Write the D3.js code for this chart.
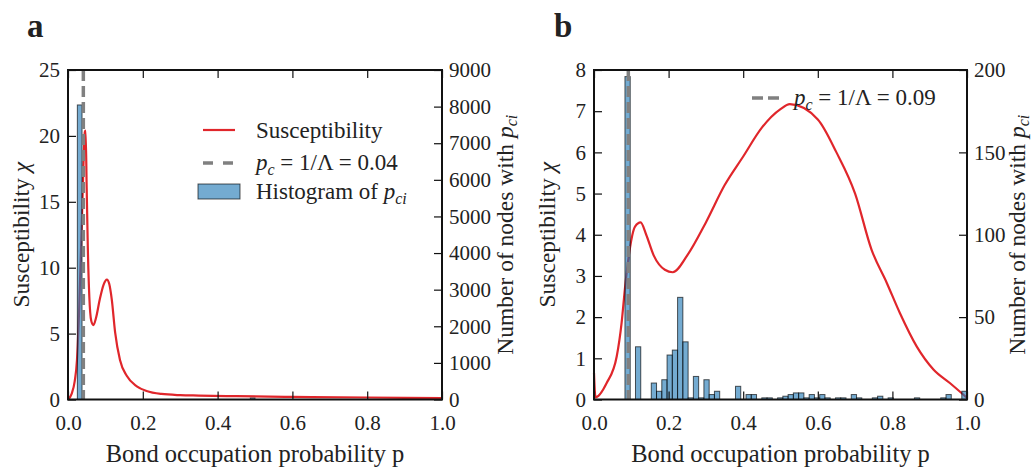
<!DOCTYPE html>
<html><head><meta charset="utf-8">
<script src="https://cdn.jsdelivr.net/npm/d3@7"></script>
<style>
body{margin:0;background:#fff}
text{font-family:"Liberation Serif","DejaVu Serif",serif;fill:#222}
</style>
</head><body>
<svg id="chart" width="1035" height="471"></svg>
<script>
// ---------- data ----------
const xTicks = [0, 0.2, 0.4, 0.6, 0.8, 1.0];
const chiTicksA = [0, 5, 10, 15, 20, 25];
const countTicksA = [0, 1000, 2000, 3000, 4000, 5000, 6000, 7000, 8000, 9000];
const chiTicksB = [0, 1, 2, 3, 4, 5, 6, 7, 8];
const countTicksB = [0, 50, 100, 150, 200];

// panel a: susceptibility curve
const suscA_p   = [0.000,0.010,0.018,0.024,0.030,0.036,0.041,0.045,0.047,0.050,0.053,0.057,0.062,0.068,0.075,0.085,0.095,0.104,0.110,0.117,0.126,0.139,0.157,0.184,0.210,0.250,0.300,0.350,0.450,0.600,0.800,1.000];
const suscA_chi = [0.0,0.45,1.4,3.0,7.0,12.5,17.5,20.3,20.4,16.0,11.5,7.8,6.0,5.65,6.2,7.6,8.7,9.1,8.8,7.6,5.1,3.0,1.8,1.0,0.65,0.42,0.33,0.30,0.25,0.20,0.15,0.10];
// panel a: histogram of p_ci
const histA_left  = [0.025, 0.4875];
const histA_count = [8045, 40];
const histA_width = 0.0125;
const pcLineA = 0.041;

// panel b: susceptibility curve
const suscB_p   = [0.000,0.004,0.034,0.061,0.074,0.083,0.095,0.110,0.125,0.140,0.160,0.190,0.211,0.250,0.300,0.350,0.400,0.450,0.500,0.525,0.600,0.650,0.700,0.744,0.785,0.820,0.865,0.910,0.954,1.000];
const suscB_chi = [0.65,0.05,0.40,1.05,1.86,2.70,3.60,4.20,4.30,4.00,3.50,3.15,3.09,3.50,4.30,5.20,5.90,6.60,7.05,7.17,6.80,6.00,5.00,3.64,2.83,2.10,1.29,0.73,0.40,0.04];
// panel b: histogram of p_ci (65 equal bins)
const histB_start = 0.083;
const histB_width = 0.01411;
const histB_count = [196,0,32,0,0,10,5,12,27,30,62,35,1,14,1,12,3,5,0,0,0,8,0,3,3,0,1,1,0,1,2,3,4,4,1,3,1,3,1,0,1,1,0,3,1,0,0,1,2,0,1,0,0,0,0,1,0,0,0,0,1,3,0,0,5];
const pcLineB = 0.092;

// ---------- drawing ----------
const svg = d3.select("#chart");
const RED = "#e0262b", BAR = "#1f77b4", GRAY = "#808080";

function panel(o) {
  const g = svg.append("g");
  const x = d3.scaleLinear().domain([0, 1]).range([o.left, o.right]);
  const yL = d3.scaleLinear().domain([0, o.chiMax]).range([o.bottom, o.top]);
  const yR = d3.scaleLinear().domain([0, o.countMax]).range([o.bottom, o.top]);

  const pts = o.sp.map((p, i) => [p, o.sc[i]]);
  g.append("path").datum(pts)
    .attr("fill", "none").attr("stroke", RED).attr("stroke-width", 2.2)
    .attr("d", d3.line().x(d => x(d[0])).y(d => yL(d[1])).curve(d3.curveMonotoneX));

  g.selectAll("rect.bar").data(o.bars).enter().append("rect")
    .attr("x", d => x(d.l)).attr("width", d => x(d.l + d.w) - x(d.l))
    .attr("y", d => yR(d.c)).attr("height", d => yR(0) - yR(d.c))
    .attr("fill", BAR).attr("fill-opacity", 0.62)
    .attr("stroke", "#000").attr("stroke-opacity", 0.65).attr("stroke-width", 1);

  g.append("line").attr("x1", x(o.pc)).attr("x2", x(o.pc))
    .attr("y1", o.top).attr("y2", o.bottom)
    .attr("stroke", GRAY).attr("stroke-width", 3.5).attr("stroke-dasharray", "11,5");

  const fmtX = d3.format(".1f");
  const ax = g.append("g").attr("transform", `translate(0,${o.bottom})`)
    .call(d3.axisBottom(x).tickValues(xTicks).tickFormat(fmtX).tickSizeInner(-8).tickSizeOuter(0).tickPadding(16));
  const axT = g.append("g").attr("transform", `translate(0,${o.top})`)
    .call(d3.axisTop(x).tickValues(xTicks).tickFormat("").tickSizeInner(-8).tickSizeOuter(0));
  const ayL = g.append("g").attr("transform", `translate(${o.left},0)`)
    .call(d3.axisLeft(yL).tickValues(o.chiTicks).tickFormat(d3.format("d")).tickSizeInner(-8).tickSizeOuter(0).tickPadding(8));
  const ayR = g.append("g").attr("transform", `translate(${o.right},0)`)
    .call(d3.axisRight(yR).tickValues(o.countTicks).tickFormat(d3.format("d")).tickSizeInner(-8).tickSizeOuter(0).tickPadding(7));
  [ax, axT, ayL, ayR].forEach(a => {
    a.select(".domain").remove();
    a.selectAll(".tick line").attr("stroke", "#111").attr("stroke-width", 1.2);
    a.selectAll(".tick text").attr("font-size", 21).attr("fill", "#222");
  });
  g.append("rect").attr("x", o.left).attr("y", o.top)
    .attr("width", o.right - o.left).attr("height", o.bottom - o.top)
    .attr("fill", "none").attr("stroke", "#111").attr("stroke-width", 2);

  g.append("text").attr("x", (o.left + o.right) / 2).attr("y", 462)
    .attr("text-anchor", "middle").attr("font-size", 24.5).text("Bond occupation probability p");
  const lt = g.append("text").attr("transform", `translate(${o.left - 39},${(o.top + o.bottom) / 2}) rotate(-90)`)
    .attr("text-anchor", "middle").attr("font-size", 23.5);
  lt.append("tspan").text("Susceptibility ");
  lt.append("tspan").attr("font-style", "italic").text("χ");
  const rt = g.append("text").attr("transform", `translate(${o.right + o.rlabOff},${(o.top + o.bottom) / 2}) rotate(-90)`)
    .attr("text-anchor", "middle").attr("font-size", 23.5);
  rt.append("tspan").text("Number of nodes with ");
  rt.append("tspan").attr("font-style", "italic").text("p");
  rt.append("tspan").attr("font-style", "italic").attr("font-size", 16).attr("dy", 4).text("ci");

  g.append("text").attr("x", o.letterX).attr("y", 37)
    .attr("font-family", "Liberation Sans").attr("font-weight", "bold")
    .attr("font-size", 33).attr("fill", "#111").text(o.letter);
  return {g, x, yL, yR};
}

function pcLabel(t, val) {
  t.append("tspan").attr("font-style", "italic").text("p");
  t.append("tspan").attr("font-style", "italic").attr("font-size", 16).attr("dy", 5).text("c");
  t.append("tspan").attr("dy", -5).text(" = 1/Λ = " + val);
}

// ----- panel a -----
const A = panel({
  left: 68, right: 442, top: 70, bottom: 399.5, chiMax: 25, countMax: 9000,
  chiTicks: chiTicksA, countTicks: countTicksA, sp: suscA_p, sc: suscA_chi,
  bars: histA_left.map((l, i) => ({l, w: histA_width, c: histA_count[i]})),
  pc: pcLineA, letter: "a", letterX: 27, rlabOff: 71
});
{
  const g = A.g;
  g.append("line").attr("x1", 203).attr("x2", 235).attr("y1", 130).attr("y2", 130)
    .attr("stroke", RED).attr("stroke-width", 2.2);
  g.append("text").attr("x", 256).attr("y", 138).attr("font-size", 23).text("Susceptibility");
  g.append("line").attr("x1", 203).attr("x2", 235).attr("y1", 163).attr("y2", 163)
    .attr("stroke", GRAY).attr("stroke-width", 3.5).attr("stroke-dasharray", "10,10");
  pcLabel(g.append("text").attr("x", 256).attr("y", 170).attr("font-size", 23), "0.04");
  g.append("rect").attr("x", 198).attr("y", 184).attr("width", 42).attr("height", 15)
    .attr("fill", BAR).attr("fill-opacity", 0.62).attr("stroke", "#000").attr("stroke-opacity", 0.65);
  const t = g.append("text").attr("x", 256).attr("y", 199).attr("font-size", 23);
  t.append("tspan").text("Histogram of ");
  t.append("tspan").attr("font-style", "italic").text("p");
  t.append("tspan").attr("font-style", "italic").attr("font-size", 16).attr("dy", 5).text("ci");
}

// ----- panel b -----
const B = panel({
  left: 594, right: 967, top: 70, bottom: 399.5, chiMax: 8, countMax: 200,
  chiTicks: chiTicksB, countTicks: countTicksB, sp: suscB_p, sc: suscB_chi,
  bars: histB_count.map((c, i) => ({l: histB_start + i * histB_width, w: histB_width, c})),
  pc: pcLineB, letter: "b", letterX: 554, rlabOff: 58
});
{
  const g = B.g;
  g.append("line").attr("x1", 752).attr("x2", 780).attr("y1", 98).attr("y2", 98)
    .attr("stroke", GRAY).attr("stroke-width", 3.5).attr("stroke-dasharray", "11,5");
  pcLabel(g.append("text").attr("x", 794).attr("y", 105).attr("font-size", 23), "0.09");
}
</script>
</body></html>
